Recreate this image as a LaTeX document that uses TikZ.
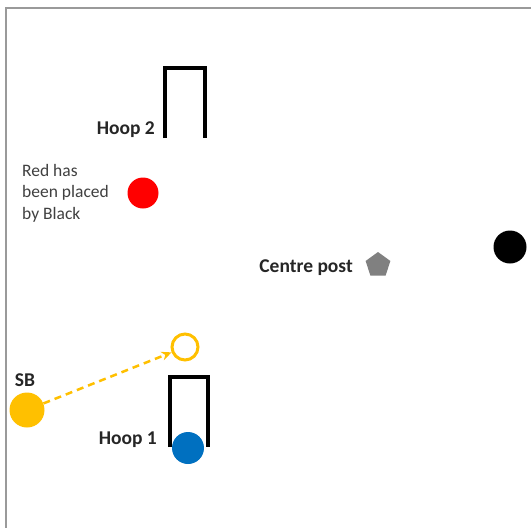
\documentclass[tikz,border=0pt]{standalone}
\usepackage{fontspec}
\setmainfont{Carlito}
\usetikzlibrary{shapes.geometric,arrows.meta}
\definecolor{ballyellow}{HTML}{FFC000}
\definecolor{ballblue}{HTML}{0070C0}
\definecolor{ballred}{HTML}{FF0000}
\definecolor{postgray}{HTML}{808080}
\definecolor{framegray}{HTML}{9A9A9A}
\tikzset{
  ball/.style={circle,inner sep=0pt,minimum size=#1},
  hoopline/.style={line width=3.5pt,line join=miter},
  lbl/.style={font=\bfseries\fontsize{19.5}{22}\selectfont,inner sep=0pt,text=black!85},
}
\begin{document}
\begin{tikzpicture}[x=1pt,y=-1pt]
\useasboundingbox (0,0) rectangle (531,528);
\fill[white] (0,0) rectangle (531,528);
% frame
\draw[framegray,line width=2.5pt] (6,528) -- (6,8) -- (531,8);
% hoop 2
\coordinate (h2a) at (165,138);
\coordinate (h2b) at (205,138);
\draw[hoopline] (h2a) -- (165,68) -- (205,68) -- (h2b);
\node[lbl,anchor=east] (hoop2) at (155,130) {Hoop 2};
% red ball and note
\node[ball=31pt,fill=ballred] (red) at (143,193) {};
\node[anchor=north west,align=left,inner sep=0pt,font=\fontsize{17.5}{21.5}\selectfont,text=black!75] (note) at (22,164) {Red has\\been placed\\by Black};
% black ball
\node[ball=33pt,fill=black] (blackb) at (510,247) {};
% centre post
\node[regular polygon,regular polygon sides=5,fill=postgray,inner sep=0pt,minimum size=26pt] (post) at (378,265) {};
\node[lbl,anchor=east] (postlbl) at (353,268) {Centre post};
% hoop 1
\coordinate (h1a) at (170,447);
\coordinate (h1b) at (208,447);
\draw[hoopline] (h1a) -- (170,377) -- (208,377) -- (h1b);
\node[lbl,anchor=east] (hoop1) at (157,440) {Hoop 1};
% blue ball
\node[ball=32pt,fill=ballblue] (blue) at (188,448) {};
% SB ball
\node[ball=35pt,fill=ballyellow] (sb) at (27,410) {};
\node[lbl] (sblbl) at (25,380) {SB};
% target
\node[ball=26pt,draw=ballyellow,line width=3pt] (target) at (185,347) {};
\draw[ballyellow,line width=2.5pt,dashed,dash pattern=on 7pt off 5pt,-{Stealth[length=10pt,width=9pt]}] (sb) -- (target);
\end{tikzpicture}
\end{document}
